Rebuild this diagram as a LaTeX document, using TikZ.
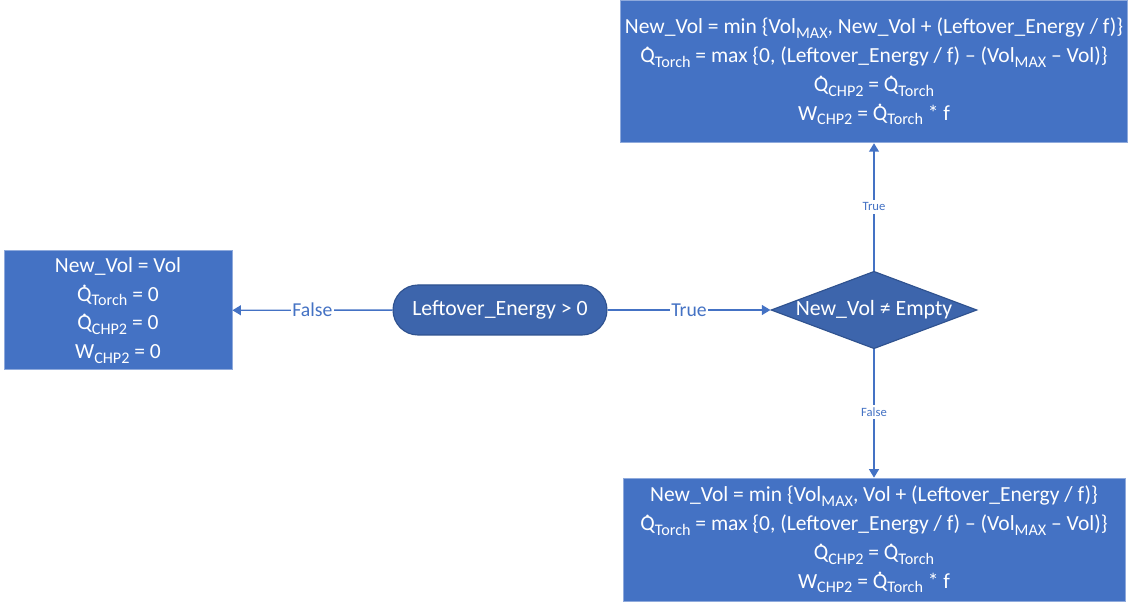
\documentclass[tikz,border=0pt]{standalone}
\usepackage{fontspec}
\setmainfont{Carlito}
\usetikzlibrary{shapes.geometric,arrows.meta}
\definecolor{boxblue}{HTML}{4472C4}
\definecolor{darkblue}{HTML}{3D65AC}
\definecolor{edgeblue}{HTML}{2F528F}
\definecolor{rimblue}{HTML}{8FAADC}
\newcommand{\low}[1]{\raisebox{-0.45ex}{\fontsize{11.5}{12}\selectfont #1}}
\newcommand{\Qd}{{\ooalign{Q\cr\hidewidth\raisebox{0.62em}{.}\hidewidth\cr}}}

\begin{document}
\begin{tikzpicture}[
  result/.style={rectangle, draw=rimblue, line width=0.6pt, fill=boxblue, text=white, align=center,
    font=\fontsize{15.3}{20.5}\selectfont},
  decide/.style={fill=darkblue, draw=edgeblue, line width=0.8pt, text=white,
    font=\fontsize{15.5}{20.5}\selectfont},
  flow/.style={boxblue, line width=1pt, -{Triangle[width=7pt,length=6pt]}},
  biglabel/.style={fill=white, text=boxblue, inner sep=1pt, font=\fontsize{14}{16}\selectfont},
  smalllabel/.style={fill=white, text=boxblue, inner sep=2pt, font=\fontsize{9}{11}\selectfont}
]
  \useasboundingbox (0,0) rectangle (28.2,-15.075);
  \node[result, minimum width=5.7cm, minimum height=2.975cm] (keep) at (2.95,-7.76)
    {New\_Vol = Vol\\ \Qd\low{Torch} = 0\\ \Qd\low{CHP2} = 0\\ W\low{CHP2} = 0};
  \node[decide, rounded corners=0.625cm, minimum width=5.35cm, minimum height=1.25cm] (energy) at (12.5,-7.75)
    {Leftover\_Energy > 0};
  \node[decide, diamond, aspect=2.66, inner sep=0pt, minimum width=5.05cm, minimum height=1.9cm] (check) at (21.85,-7.75)
    {New\_Vol ≠ Empty};
  \node[result, minimum width=12.55cm, minimum height=3.56cm] (stored) at (21.85,-1.79)
    {New\_Vol = min \{Vol\low{MAX}, New\_Vol + (Leftover\_Energy / f)\}\\
     \Qd\low{Torch} = max \{0, (Leftover\_Energy / f) – (Vol\low{MAX} – Vol)\}\\
     \Qd\low{CHP2} = \Qd\low{Torch}\\
     W\low{CHP2} = \Qd\low{Torch} * f};
  \node[result, minimum width=12.55cm, minimum height=3.075cm] (empty) at (21.85,-13.49)
    {New\_Vol = min \{Vol\low{MAX}, Vol + (Leftover\_Energy / f)\}\\
     \Qd\low{Torch} = max \{0, (Leftover\_Energy / f) – (Vol\low{MAX} – Vol)\}\\
     \Qd\low{CHP2} = \Qd\low{Torch}\\
     W\low{CHP2} = \Qd\low{Torch} * f};
  \draw[flow] (energy) -- node[biglabel, pos=0.5] {False} (keep);
  \draw[flow] (energy) -- node[biglabel, pos=0.5] {True} (check);
  \draw[flow] (check) -- node[smalllabel] {True} (stored);
  \draw[flow] (check) -- node[smalllabel, pos=0.49] {False} (empty);
\end{tikzpicture}
\end{document}
